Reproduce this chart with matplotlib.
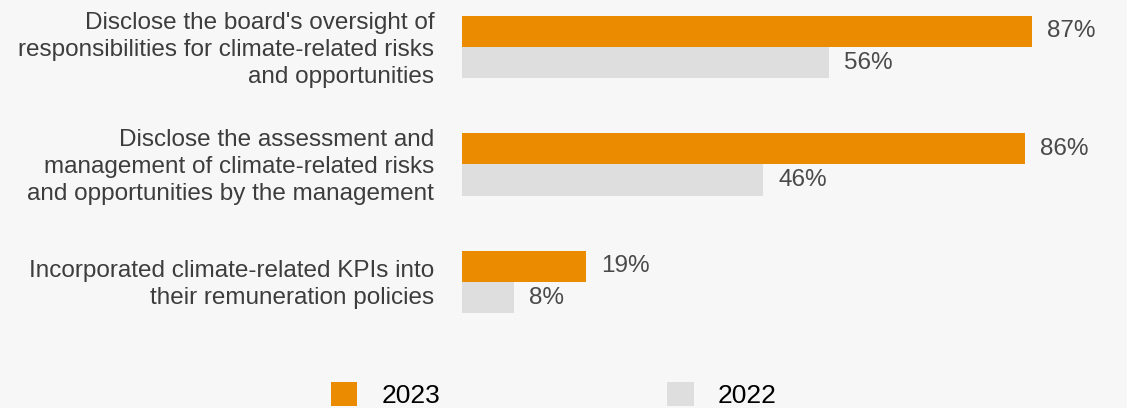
import numpy as np
import matplotlib.pyplot as plt
from matplotlib.patches import Patch

# --- Daten ---
categories = [
    "Disclose the board's oversight of\nresponsibilities for climate-related risks\nand opportunities",
    "Disclose the assessment and\nmanagement of climate-related risks\nand opportunities by the management",
    "Incorporated climate-related KPIs into\ntheir remuneration policies",
]
values_2023 = [87, 86, 19]
values_2022 = [56, 46, 8]
series_labels = ["2023", "2022"]

# --- Stil ---
BG = "#f7f7f7"
ORANGE = "#eb8c00"
GREY = "#dedede"
plt.rcParams["font.family"] = ["Liberation Sans", "DejaVu Sans"]

W, H = 1127, 408
fig = plt.figure(figsize=(W / 100, H / 100), dpi=100, facecolor=BG)

# Achse in Pixelkoordinaten platzieren
ax_left, ax_bottom, ax_w, ax_h = 462, 68, 655, 340
ax = fig.add_axes([ax_left / W, ax_bottom / H, ax_w / W, ax_h / H])
ax.set_facecolor(BG)

y = np.arange(len(categories))
bar_h = 0.265

ax.barh(y - bar_h / 2, values_2023, height=bar_h, color=ORANGE)
ax.barh(y + bar_h / 2, values_2022, height=bar_h, color=GREY)

for yi, v in zip(y, values_2023):
    ax.text(v + 2.3, yi - bar_h / 2, f"{v}%", va="center", ha="left",
            fontsize=17.5, color="#4a4a4a")
for yi, v in zip(y, values_2022):
    ax.text(v + 2.3, yi + bar_h / 2, f"{v}%", va="center", ha="left",
            fontsize=17.5, color="#4a4a4a")

ax.set_xlim(0, 100)
ax.set_ylim(2.494, -0.4)
ax.set_yticks(y - 0.02)
ax.set_yticklabels(categories, fontsize=17.5, color="#3d3d3d", linespacing=1.3)
ax.tick_params(axis="y", length=0, pad=20)
ax.set_xticks([])
for s in ax.spines.values():
    s.set_visible(False)

# Legende unten
handles = [Patch(facecolor=ORANGE), Patch(facecolor=GREY)]
fig.legend(handles, series_labels, loc="center", ncol=2,
           bbox_to_anchor=(553.5 / W, 1 - 395 / H), frameon=False,
           fontsize=19, handlelength=1.02, handleheight=1.02,
           handletextpad=0.9, columnspacing=8.6, borderpad=0)

fig.savefig("out.png", dpi=100, facecolor=BG)
